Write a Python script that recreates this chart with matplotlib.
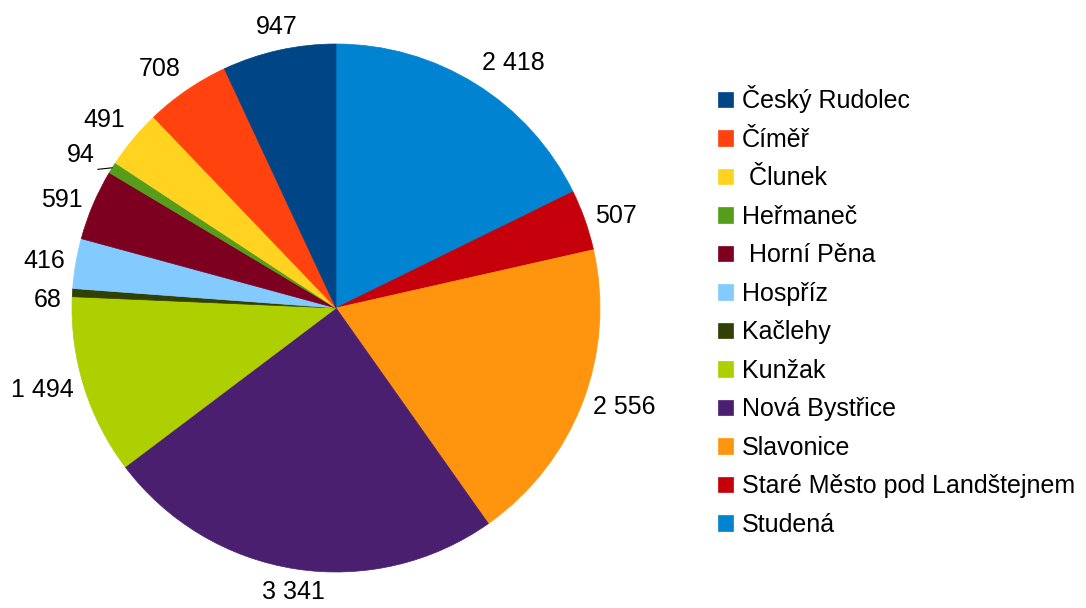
import numpy as np
import matplotlib
matplotlib.use("Agg")
import matplotlib.pyplot as plt

plt.rcParams['font.family'] = ['Liberation Sans', 'DejaVu Sans']

# legend order (the pie is drawn clockwise from the top in reverse order)
names = ['Český Rudolec', 'Číměř', ' Člunek', 'Heřmaneč', ' Horní Pěna', 'Hospříz',
         'Kačlehy', 'Kunžak', 'Nová Bystřice', 'Slavonice',
         'Staré Město pod Landštejnem', 'Studená']
values = [947, 708, 491, 94, 591, 416, 68, 1494, 3341, 2556, 507, 2418]
colors = ['#004586', '#ff420e', '#ffd320', '#579d1c', '#7e0021', '#83caff',
          '#314004', '#aecf00', '#4b1f6f', '#ff950e', '#c5000b', '#0084d1']

fig = plt.figure(figsize=(10.86, 6.08), dpi=100)
ax = fig.add_axes([36 / 1086, 0, 600 / 1086, 600 / 608])

wedges, _ = ax.pie(values[::-1], colors=colors[::-1], startangle=90,
                   counterclock=False, radius=1,
                   wedgeprops=dict(linewidth=0.5))
for w in wedges:
    w.set_edgecolor(w.get_facecolor())
lim = 300 / 264
ax.set_xlim(-lim, lim)
ax.set_ylim(-lim, lim)
ax.set_aspect('equal')


def fmt(v):
    return f"{v:,}".replace(",", " ")


for w, v in zip(wedges, values[::-1]):
    ang = np.deg2rad((w.theta1 + w.theta2) / 2)
    c, s = np.cos(ang), np.sin(ang)
    xy = (c, s)
    if v < 100 and s > 0.3:
        # small slice: label with a short leader line
        ax.annotate(fmt(v), xy=xy, xytext=(-12.5, 0.5), textcoords='offset points',
                    ha='right', va='bottom', fontsize=18,
                    arrowprops=dict(arrowstyle='-', color='black', lw=0.8,
                                    shrinkA=0, shrinkB=0, relpos=(1.05, -0.1)))
        continue
    ha = 'left' if c > 0.3 else ('right' if c < -0.3 else 'center')
    va = 'bottom' if s > 0.5 else ('top' if s < -0.5 else 'center')
    dy = -6 if v < 100 else 0  # tiny slice label nudged down, clear of its neighbour
    ax.annotate(fmt(v), xy=xy, xytext=(8 * c, 8 * s + dy), textcoords='offset points',
                ha=ha, va=va, fontsize=18)

ax.legend(wedges[::-1], names, loc='center left',
          bbox_to_anchor=(718 / 1086, 297 / 608), bbox_transform=fig.transFigure,
          frameon=False, fontsize=18, handlelength=0.6, handleheight=0.6,
          handletextpad=0.35, labelspacing=0.58, borderpad=0, borderaxespad=0)

fig.savefig('out.png', dpi=100)
